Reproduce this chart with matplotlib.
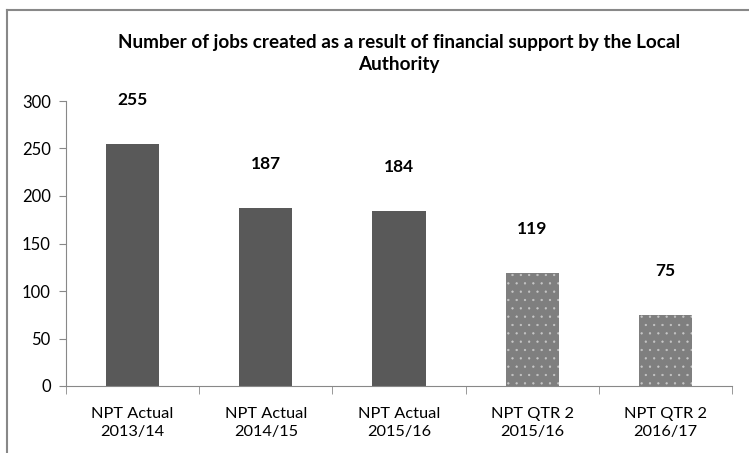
import matplotlib.pyplot as plt
from matplotlib.lines import Line2D

categories = ["NPT Actual\n2013/14", "NPT Actual\n2014/15", "NPT Actual\n2015/16",
              "NPT QTR 2\n2015/16", "NPT QTR 2\n2016/17"]
values = [255, 187, 184, 119, 75]
is_quarter = [False, False, False, True, True]
yticks = [0, 50, 100, 150, 200, 250, 300]

plt.rcParams['font.family'] = ['Lato', 'DejaVu Sans']
plt.rcParams['hatch.linewidth'] = 0.4

fig = plt.figure(figsize=(7.49, 4.53), dpi=100)
ax = fig.add_axes([66 / 749, 1 - 386 / 453, 666 / 749, 285 / 453])

x = range(len(values))
for i, (v, q) in enumerate(zip(values, is_quarter)):
    if q:
        ax.bar(i, v, width=0.4, color='#7f7f7f', edgecolor='#c8c8c8',
               hatch='..', linewidth=0)
    else:
        ax.bar(i, v, width=0.4, color='#595959', linewidth=0)
    ax.annotate(str(v), (i, v), xytext=(0, 26), textcoords='offset points',
                ha='center', va='bottom', fontsize=12.5, fontweight='bold')

ax.set_xlim(-0.5, len(values) - 0.5)
ax.set_ylim(0, 300)
ax.set_yticks(yticks)
ax.tick_params(axis='y', labelsize=12, length=5, color='#888888', pad=6)
ax.set_xticks(list(x))
ax.set_xticklabels(categories, fontsize=11.8, linespacing=1.35)
ax.tick_params(axis='x', length=0, pad=15)
ax.set_xticks([i - 0.5 for i in range(len(values) + 1)], minor=True)
ax.tick_params(axis='x', which='minor', length=6, color='#888888')

for s in ['top', 'right']:
    ax.spines[s].set_visible(False)
for s in ['left', 'bottom']:
    ax.spines[s].set_color('#888888')

ax.set_title("Number of jobs created as a result of financial support by the Local\nAuthority",
             fontsize=13.6, fontweight='bold', pad=22, linespacing=1.4)

# chart border (left and top edges visible in the crop)
fig.add_artist(Line2D([6.5 / 749, 6.5 / 749], [0, 1 - 9.5 / 453], color='#888888', lw=1.5))
fig.add_artist(Line2D([6.5 / 749, 1], [1 - 9.5 / 453, 1 - 9.5 / 453], color='#888888', lw=1.5))

fig.savefig('out.png', dpi=100)
